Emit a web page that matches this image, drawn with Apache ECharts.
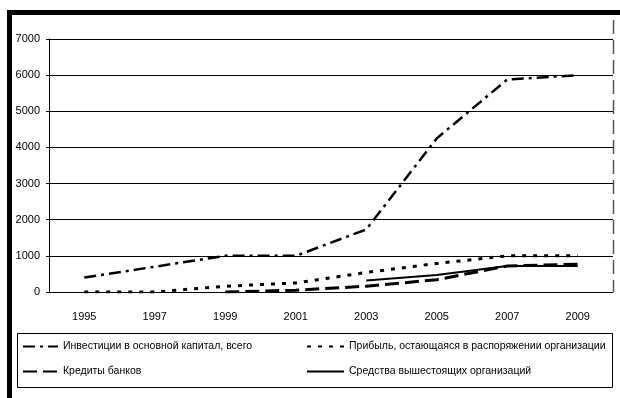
<!DOCTYPE html>
<html>
<head>
<meta charset="utf-8">
<script src="https://cdn.jsdelivr.net/npm/echarts@6/dist/echarts.min.js"></script>
<style>
  html, body { margin: 0; padding: 0; background: #fff; }
  #chart { width: 620px; height: 398px; }
</style>
</head>
<body>
<div id="chart"></div>
<script>
// data
var years = ['1995', '1997', '1999', '2001', '2003', '2005', '2007', '2009'];
var investments = [400, 700, 1000, 1000, 1730, 4250, 5880, 6000];
var profit = [0, 0, 160, 250, 540, 790, 1000, 1000];
var credits = [null, null, 0, 50, 160, 340, 720, 770];
var parentFunds = [null, null, null, null, 320, 470, 720, 720];
var yTicks = { min: 0, max: 7000, step: 1000 };

var names = [
  'Инвестиции в основной капитал, всего',
  'Прибыль, остающаяся в распоряжении организации',
  'Кредиты банков',
  'Средства вышестоящих организаций'
];

var FONT = '"Liberation Sans", Arial, sans-serif';

var chart = echarts.init(document.getElementById('chart'));

function legendAt(name, left, top, w) {
  return {
    data: [name],
    left: left,
    top: top,
    itemWidth: w,
    itemHeight: 14,
    padding: 0,
    selectedMode: false,
    // hide the symbol the line icon draws in its middle
    itemStyle: { color: 'rgba(0,0,0,0)', borderWidth: 0, opacity: 0 },
    textStyle: { fontFamily: FONT, fontSize: 10.5, color: '#000' }
  };
}

function lineSeries(name, data, width, dash) {
  return {
    name: name,
    type: 'line',
    data: data,
    symbol: 'none',
    animation: false,
    lineStyle: { color: '#000', width: width, type: dash, cap: 'butt' },
    itemStyle: { color: '#000' }
  };
}

chart.setOption({
  backgroundColor: '#fff',
  animation: false,
  grid: { left: 49, right: 7, top: 39, bottom: 106 },
  xAxis: {
    type: 'category',
    data: years,
    boundaryGap: true,
    axisLine: { lineStyle: { color: '#000', width: 1 } },
    axisTick: { length: 5, lineStyle: { color: '#000' } },
    axisLabel: { margin: 19, color: '#000', fontFamily: FONT, fontSize: 11 },
    splitLine: { show: false }
  },
  yAxis: {
    type: 'value',
    min: yTicks.min,
    max: yTicks.max,
    interval: yTicks.step,
    axisLine: { show: true, lineStyle: { color: '#000', width: 1 } },
    axisTick: { show: true, length: 3, lineStyle: { color: '#000' } },
    axisLabel: {
      margin: 9, color: '#000', fontFamily: FONT, fontSize: 11,
      formatter: function (v) { return String(v); }
    },
    splitLine: { lineStyle: { color: '#000', width: 1 } }
  },
  legend: [
    legendAt(names[0], 22, 341, 35),
    legendAt(names[1], 306, 341, 37),
    legendAt(names[2], 22, 366, 35),
    legendAt(names[3], 306, 366, 37)
  ],
  graphic: [
    // thick frame on the left and top
    { type: 'rect', shape: { x: 7, y: 10, width: 5, height: 388 }, style: { fill: '#000' }, silent: true },
    { type: 'rect', shape: { x: 7, y: 10, width: 613, height: 5 }, style: { fill: '#000' }, silent: true },
    // dashed right edge
    { type: 'line', shape: { x1: 613.5, y1: 20, x2: 613.5, y2: 292 },
      style: { stroke: '#555', lineWidth: 1.5, lineDash: [14, 6] }, silent: true },
    // legend box
    { type: 'rect', shape: { x: 17.5, y: 333.5, width: 595, height: 54 },
      style: { fill: 'none', stroke: '#000', lineWidth: 1 }, silent: true, z: -1 }
  ],
  series: [
    lineSeries(names[0], investments, 2.5, [12, 5, 3, 5]),
    lineSeries(names[1], profit, 3, [4, 7]),
    lineSeries(names[2], credits, 3, [14, 6]),
    lineSeries(names[3], parentFunds, 2, 'solid')
  ]
});
</script>
</body>
</html>
